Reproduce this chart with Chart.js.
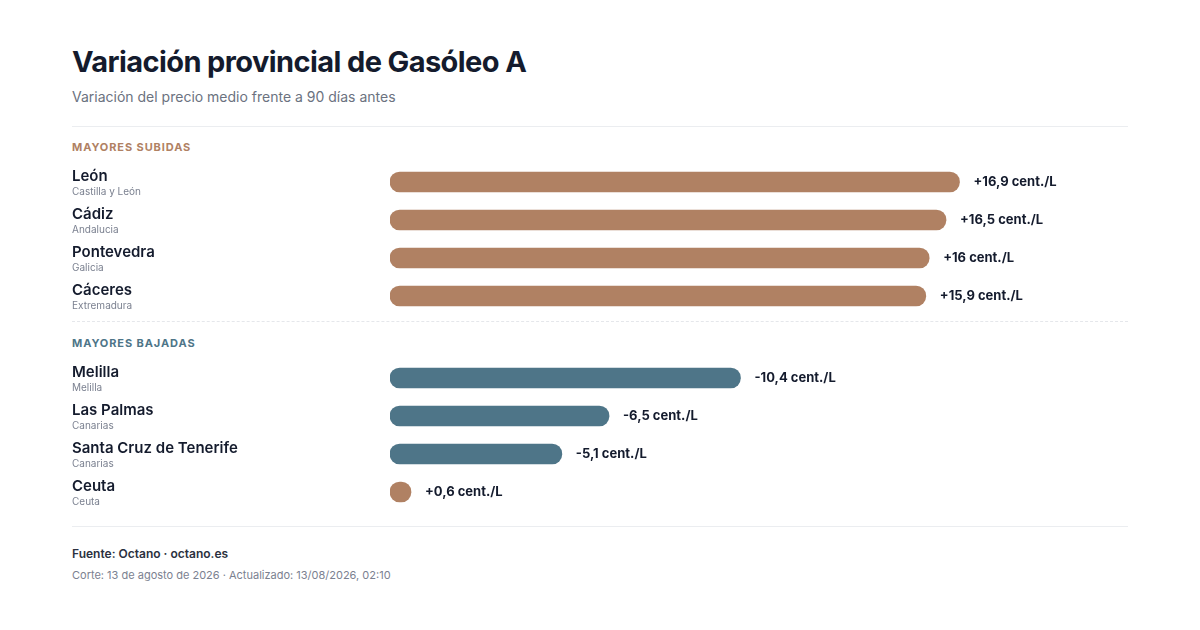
<!DOCTYPE html>
<html>
<head>
<meta charset="utf-8">
<script src="https://cdn.jsdelivr.net/npm/chart.js@4"></script>
<style>
  html, body { margin: 0; padding: 0; background: #fff; }
  body { width: 1200px; height: 630px; position: relative; font-family: Inter, "Noto Sans", sans-serif; color: #141b2d; overflow: hidden; }
  .abs { position: absolute; }
  h1 { position: absolute; left: 72px; top: 42px; margin: 0; font-size: 29px; font-weight: 700; letter-spacing: -0.6px; line-height: 40px; }
  .sub { left: 72px; top: 88px; font-size: 14px; color: #6b7280; }
  .rule { left: 72px; width: 1056px; height: 0; border-top: 1px solid #ebedf0; }
  .dash { left: 72px; width: 1056px; height: 0; border-top: 1px dashed #e5e7eb; }
  .sec { left: 72px; font-size: 11px; font-weight: 700; letter-spacing: 0.9px; }
  .wrap { left: 72px; width: 1056px; height: 152px; }
  .src { left: 72px; top: 546px; font-size: 12px; font-weight: 600; color: #2b3140; }
  .upd { left: 72px; top: 568px; font-size: 11px; color: #7b8190; }
</style>
</head>
<body>
<h1>Variación provincial de Gasóleo A</h1>
<div class="abs sub">Variación del precio medio frente a 90 días antes</div>
<div class="abs rule" style="top:126px"></div>
<div class="abs sec" style="top:140px;color:#b08163">MAYORES SUBIDAS</div>
<div class="abs wrap" style="top:163px"><canvas id="upChart"></canvas></div>
<div class="abs dash" style="top:321px"></div>
<div class="abs sec" style="top:336px;color:#4e7588">MAYORES BAJADAS</div>
<div class="abs wrap" style="top:359px"><canvas id="downChart"></canvas></div>
<div class="abs rule" style="top:526px"></div>
<div class="abs src">Fuente: Octano · octano.es</div>
<div class="abs upd">Corte: 13 de agosto de 2026 · Actualizado: 13/08/2026, 02:10</div>

<script>
// Provinces with the largest increases
const upNames = ['León', 'Cádiz', 'Pontevedra', 'Cáceres'];
const upRegions = ['Castilla y León', 'Andalucia', 'Galicia', 'Extremadura'];
const upValues = [16.9, 16.5, 16, 15.9];

// Provinces with the largest decreases
const downNames = ['Melilla', 'Las Palmas', 'Santa Cruz de Tenerife', 'Ceuta'];
const downRegions = ['Melilla', 'Canarias', 'Canarias', 'Ceuta'];
const downValues = [-10.4, -6.5, -5.1, 0.6];

const UP_COLOR = '#b08163';
const DOWN_COLOR = '#4e7588';
const AXIS_MAX = 21.9;

function formatValue(v) {
  const s = String(Math.abs(v)).replace('.', ',');
  return (v < 0 ? '-' : '+') + s + ' cent./L';
}

// Draws province name + region on the left, and the value after the bar
const rowLabels = {
  id: 'rowLabels',
  afterDatasetsDraw(chart) {
    const c = chart.ctx;
    const names = chart.options.plugins.rowLabels.names;
    const regions = chart.options.plugins.rowLabels.regions;
    const values = chart.options.plugins.rowLabels.values;
    const yScale = chart.scales.y;
    const meta = chart.getDatasetMeta(0);
    c.save();
    c.textBaseline = 'middle';
    names.forEach((name, i) => {
      const y = yScale.getPixelForValue(i);
      c.textAlign = 'left';
      c.fillStyle = '#141b2d';
      c.font = '600 15px Inter, "Noto Sans", sans-serif';
      c.fillText(name, 0, y - 6);
      c.fillStyle = '#7b8190';
      c.font = '10px Inter, "Noto Sans", sans-serif';
      c.fillText(regions[i], 0, y + 10);
      const bar = meta.data[i];
      c.fillStyle = '#141b2d';
      c.font = '700 13px Inter, "Noto Sans", sans-serif';
      c.fillText(formatValue(values[i]), bar.x + 14, y);
    });
    c.restore();
  }
};

function makeChart(id, names, regions, values) {
  return new Chart(document.getElementById(id), {
    type: 'bar',
    data: {
      labels: names,
      datasets: [{
        data: values.map(v => Math.abs(v)),
        backgroundColor: values.map(v => v < 0 ? DOWN_COLOR : UP_COLOR),
        barThickness: 20,
        borderRadius: 10,
        borderSkipped: false,
        minBarLength: 21,
      }]
    },
    options: {
      indexAxis: 'y',
      responsive: true,
      maintainAspectRatio: false,
      animation: false,
      layout: { padding: { left: 318, right: 0, top: 0, bottom: 0 } },
      scales: {
        x: { display: false, min: 0, max: AXIS_MAX },
        y: { display: false }
      },
      plugins: {
        legend: { display: false },
        tooltip: { enabled: false },
        rowLabels: { names: names, regions: regions, values: values }
      }
    },
    plugins: [rowLabels]
  });
}

makeChart('upChart', upNames, upRegions, upValues);
makeChart('downChart', downNames, downRegions, downValues);
</script>
</body>
</html>
